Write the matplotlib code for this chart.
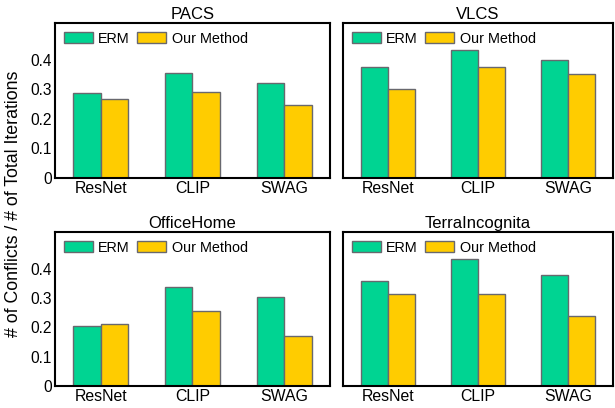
import numpy as np
import matplotlib
matplotlib.use("Agg")
import matplotlib.pyplot as plt

plt.rcParams['font.family'] = ['Liberation Sans', 'DejaVu Sans']

models = ['ResNet', 'CLIP', 'SWAG']
datasets = ['PACS', 'VLCS', 'OfficeHome', 'TerraIncognita']
erm = [
    [0.289, 0.357, 0.321],   # PACS
    [0.377, 0.434, 0.400],   # VLCS
    [0.206, 0.339, 0.305],   # OfficeHome
    [0.359, 0.432, 0.380],   # TerraIncognita
]
ours = [
    [0.267, 0.290, 0.247],
    [0.302, 0.377, 0.352],
    [0.213, 0.254, 0.170],
    [0.312, 0.313, 0.240],
]

green = '#00d492'
yellow = '#ffcc00'
edge = '#68686e'

fig = plt.figure(figsize=(6.15, 4.08), dpi=100)
rects = [
    [0.0894, 0.5637, 0.4472, 0.3799],
    [0.5577, 0.5637, 0.4390, 0.3799],
    [0.0894, 0.0539, 0.4472, 0.3775],
    [0.5577, 0.0539, 0.4390, 0.3775],
]

x = np.arange(len(models))
w = 0.3
for i, name in enumerate(datasets):
    ax = fig.add_axes(rects[i])
    ax.bar(x - w/2, erm[i], w, color=green, edgecolor=edge, linewidth=1.0, label='ERM')
    ax.bar(x + w/2, ours[i], w, color=yellow, edgecolor=edge, linewidth=1.0, label='Our Method')
    ax.set_xlim(-0.5, 2.5)
    ax.set_ylim(0, 0.525)
    ax.set_xticks(x)
    ax.set_xticklabels(models, fontsize=11.4)
    ax.set_yticks([0, 0.1, 0.2, 0.3, 0.4])
    ax.set_yticklabels(['0', '0.1', '0.2', '0.3', '0.4'], fontsize=11.2)
    ax.tick_params(length=0, pad=2)
    if i % 2 == 1:
        ax.set_yticklabels([])
    for s in ax.spines.values():
        s.set_linewidth(1.5)
    ax.set_title(name, fontsize=12, pad=3)
    ax.legend(loc='upper left', ncol=2, frameon=False, fontsize=10.4,
              handlelength=2.0, handleheight=0.76, columnspacing=0.5,
              handletextpad=0.4, borderaxespad=0.3, borderpad=0.3)

fig.text(0.022, 0.5, '# of Conflicts / # of Total Iterations', rotation=90,
         va='center', ha='center', fontsize=12.8)

fig.savefig('out.png', dpi=100)
